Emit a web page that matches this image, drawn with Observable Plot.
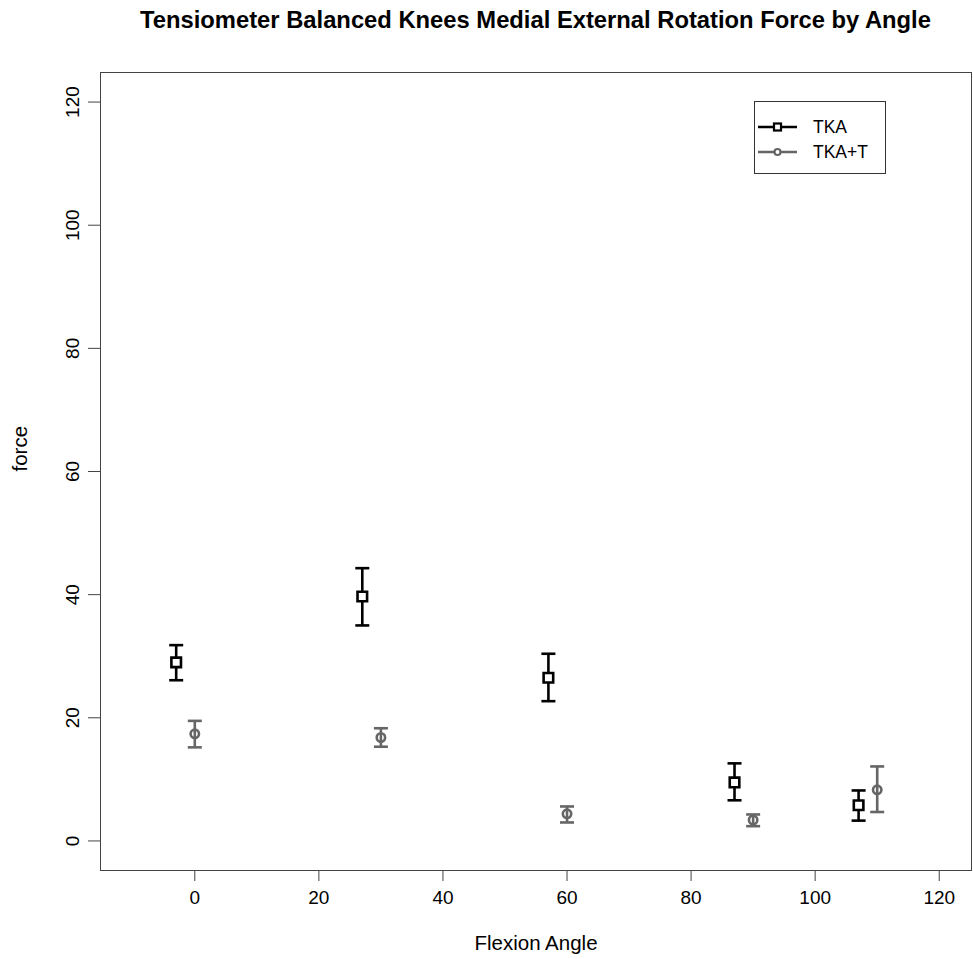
<!DOCTYPE html>
<html>
<head>
<meta charset="utf-8">
<script src="https://cdn.jsdelivr.net/npm/d3@7"></script>
<script src="https://cdn.jsdelivr.net/npm/@observablehq/plot@0.6"></script>
<style>
  body { margin: 0; background: #fff; font-family: "Liberation Sans", Arial, sans-serif; }
  #wrap { position: relative; width: 973px; height: 959px; background: #fff; }
  #title { position: absolute; left: 100px; width: 871px; top: 8px; text-align: center;
           font-weight: bold; font-size: 24px; line-height: 24px; color: #000;
           transform: scaleX(0.99); transform-origin: 50% 50%; white-space: nowrap; }
  #legend { position: absolute; left: 754px; top: 101px; width: 130px; height: 71px;
            border: 1px solid #333; background: #fff; }
  #legend svg { position: absolute; left: 0; top: 0; }
</style>
</head>
<body>
<div id="wrap">
  <div id="chart"></div>
  <div id="title"></div>
  <div id="legend"></div>
</div>
<script>
// ---- data ----
const seriesNames = ["TKA", "TKA+T"];
const seriesColors = ["#000000", "#666666"];

const tkaAngle = [-3, 27, 57, 87, 107];
const tkaMean  = [29.0, 39.7, 26.5, 9.5, 5.8];
const tkaLow   = [26.1, 35.0, 22.7, 6.6, 3.3];
const tkaHigh  = [31.8, 44.3, 30.4, 12.6, 8.2];

const tktAngle = [0, 30, 60, 90, 110];
const tktMean  = [17.4, 16.8, 4.4, 3.4, 8.3];
const tktLow   = [15.2, 15.3, 3.0, 2.4, 4.7];
const tktHigh  = [19.5, 18.3, 5.6, 4.3, 12.1];

const xTicks = [0, 20, 40, 60, 80, 100, 120];
const yTicks = [0, 20, 40, 60, 80, 100, 120];
const xLim = [-10, 120];
const yLim = [0, 120];

const titleText = "Tensiometer Balanced Knees Medial External Rotation Force by Angle";
const xLabel = "Flexion Angle";
const yLabel = "force";

// ---- build tables ----
const tka = tkaAngle.map((a, i) => ({angle: a, mean: tkaMean[i], lo: tkaLow[i], hi: tkaHigh[i]}));
const tkt = tktAngle.map((a, i) => ({angle: a, mean: tktMean[i], lo: tktLow[i], hi: tktHigh[i]}));

// R-style 4% axis expansion
const pad = (lim) => { const e = (lim[1] - lim[0]) * 0.04; return [lim[0] - e, lim[1] + e]; };

// Horizontal cap symbol for error bars
const capSymbol = {
  draw(context, size) {
    const r = Math.sqrt(size / Math.PI);
    context.moveTo(-r, 0);
    context.lineTo(r, 0);
  }
};

function errorMarks(rows, color, symbol, r, fill) {
  return [
    Plot.ruleX(rows, {x: "angle", y1: "lo", y2: "hi", stroke: color, strokeWidth: 2.6}),
    Plot.dot(rows, {x: "angle", y: "lo", symbol: capSymbol, r: 7, stroke: color, strokeWidth: 2.6}),
    Plot.dot(rows, {x: "angle", y: "hi", symbol: capSymbol, r: 7, stroke: color, strokeWidth: 2.6}),
    Plot.dot(rows, {x: "angle", y: "mean", symbol, r, stroke: color, fill, strokeWidth: 2.6})
  ];
}

const chart = Plot.plot({
  width: 973,
  height: 959,
  marginTop: 72,
  marginBottom: 89,
  marginLeft: 100,
  marginRight: 2,
  x: {domain: pad(xLim)},
  y: {domain: pad(yLim)},
  style: {fontFamily: '"Liberation Sans", Arial, sans-serif', fontSize: "19px", color: "#000", background: "#fff", overflow: "visible"},
  marks: [
    Plot.axisX({ticks: xTicks, tickSize: 11, tickPadding: 9, label: null, stroke: "#444"}),
    Plot.axisY({ticks: yTicks, tickSize: 12, tickPadding: 10, tickRotate: -90, label: null, stroke: "#444"}),
    Plot.frame({stroke: "#444", strokeWidth: 1}),
    Plot.text([xLabel], {frameAnchor: "bottom", dy: 79, fontSize: 20.5, fill: "#000"}),
    Plot.text([yLabel], {frameAnchor: "left", dx: -80, rotate: -90, fontSize: 20.5, fill: "#000"}),
    ...errorMarks(tka, seriesColors[0], "square", 5.4, "white"),
    ...errorMarks(tkt, seriesColors[1], "circle", 4.2, "none")
  ]
});
document.getElementById("chart").appendChild(chart);

// ---- legend ----
const legendRows = [{y: 25, name: seriesNames[0], color: seriesColors[0], sym: "square"},
                    {y: 50, name: seriesNames[1], color: seriesColors[1], sym: "circle"}];
const ns = "http://www.w3.org/2000/svg";
const lsvg = document.createElementNS(ns, "svg");
lsvg.setAttribute("width", 130);
lsvg.setAttribute("height", 71);
legendRows.forEach(row => {
  const line = document.createElementNS(ns, "line");
  line.setAttribute("x1", 3); line.setAttribute("x2", 42);
  line.setAttribute("y1", row.y); line.setAttribute("y2", row.y);
  line.setAttribute("stroke", row.color); line.setAttribute("stroke-width", 2.6);
  lsvg.appendChild(line);
  let m;
  if (row.sym === "square") {
    m = document.createElementNS(ns, "rect");
    m.setAttribute("x", 19); m.setAttribute("y", row.y - 3.5);
    m.setAttribute("width", 7); m.setAttribute("height", 7);
    m.setAttribute("fill", "white");
  } else {
    m = document.createElementNS(ns, "circle");
    m.setAttribute("cx", 22.5); m.setAttribute("cy", row.y); m.setAttribute("r", 3);
    m.setAttribute("fill", "white");
  }
  m.setAttribute("stroke", row.color); m.setAttribute("stroke-width", 2.2);
  lsvg.appendChild(m);
  const t = document.createElementNS(ns, "text");
  t.setAttribute("x", 58); t.setAttribute("y", row.y + 6);
  t.setAttribute("font-size", 17.5);
  t.setAttribute("font-family", '"Liberation Sans", Arial, sans-serif');
  t.setAttribute("fill", "#000");
  t.textContent = row.name;
  lsvg.appendChild(t);
});
document.getElementById("legend").appendChild(lsvg);
document.getElementById("title").textContent = titleText;
</script>
</body>
</html>
